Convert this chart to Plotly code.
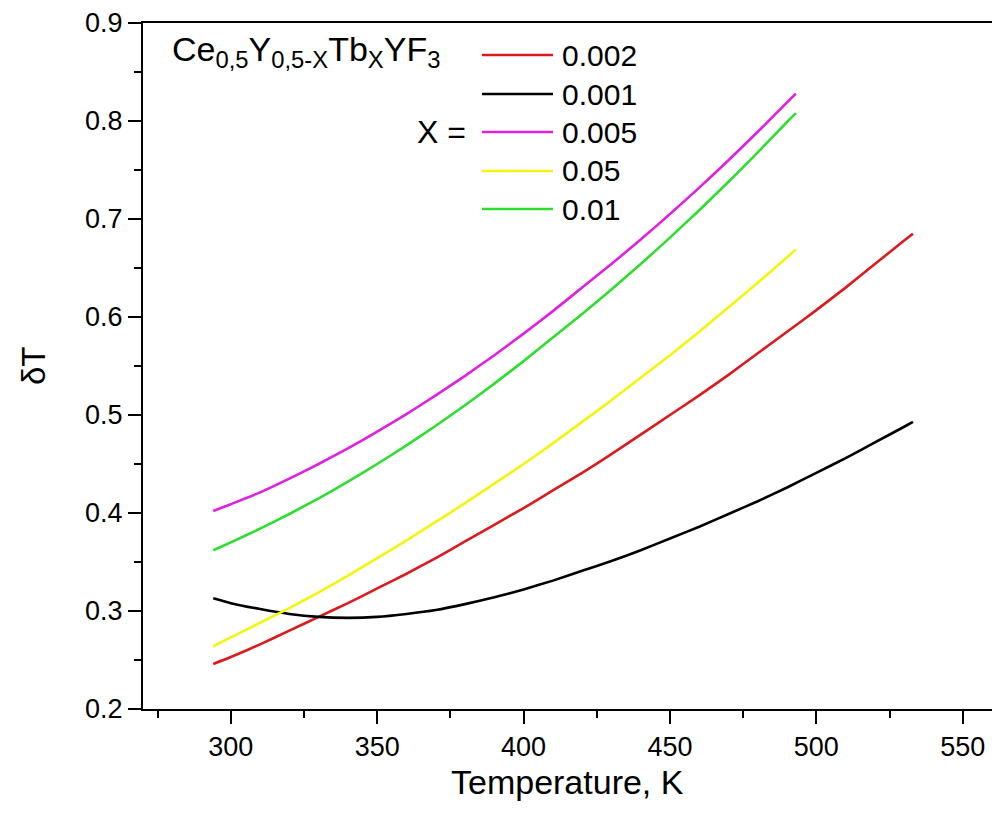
import plotly.graph_objects as go

# Temperature grids (K)
temp_long = [294, 300, 310, 320, 330, 340, 350, 360, 370, 380, 390, 400, 410, 420,
             430, 440, 450, 460, 470, 480, 490, 500, 510, 520, 530, 533]
temp_short = [294, 300, 310, 320, 330, 340, 350, 360, 370, 380, 390, 400, 410, 420,
              430, 440, 450, 460, 470, 480, 490, 493]

# delta T for each Tb concentration X
dT_0002 = [0.246, 0.253, 0.266, 0.280, 0.294, 0.308, 0.323, 0.338, 0.354, 0.371, 0.388,
           0.405, 0.423, 0.441, 0.460, 0.480, 0.500, 0.520, 0.541, 0.563, 0.585, 0.607,
           0.630, 0.654, 0.678, 0.685]
dT_0001 = [0.313, 0.308, 0.302, 0.297, 0.294, 0.293, 0.294, 0.297, 0.301, 0.307, 0.314,
           0.322, 0.331, 0.341, 0.351, 0.362, 0.374, 0.386, 0.399, 0.412, 0.426, 0.441,
           0.456, 0.472, 0.488, 0.493]
dT_0005 = [0.402, 0.409, 0.421, 0.435, 0.450, 0.466, 0.483, 0.501, 0.520, 0.540, 0.561,
           0.583, 0.606, 0.630, 0.654, 0.679, 0.705, 0.732, 0.760, 0.789, 0.819, 0.828]
dT_005 = [0.264, 0.273, 0.288, 0.303, 0.319, 0.336, 0.354, 0.372, 0.391, 0.410, 0.430,
          0.450, 0.471, 0.493, 0.515, 0.538, 0.561, 0.585, 0.610, 0.635, 0.661, 0.669]
dT_001 = [0.362, 0.370, 0.384, 0.399, 0.415, 0.432, 0.450, 0.469, 0.489, 0.510, 0.532,
          0.555, 0.579, 0.603, 0.628, 0.654, 0.681, 0.709, 0.738, 0.768, 0.799, 0.808]

labels = ["0.002", "0.001", "0.005", "0.05", "0.01"]
colors = ["#dc1a1e", "#000000", "#e020e0", "#f4f40c", "#2ede2e"]
xs = [temp_long, temp_long, temp_short, temp_short, temp_short]
ys = [dT_0002, dT_0001, dT_0005, dT_005, dT_001]

FONT = "Liberation Sans, Arial, sans-serif"
W, H = 992, 816
ML, MR, MT, MB = 143, 0, 23, 107
PW, PH = W - ML - MR, H - MT - MB


def px(xp):
    return (xp - ML) / PW


def py(yp):
    return (H - MB - yp) / PH


fig = go.Figure()
for x, y, lab, col in zip(xs, ys, labels, colors):
    fig.add_trace(go.Scatter(x=x, y=y, mode="lines", name=lab,
                             line=dict(color=col, width=2.6, shape="spline",
                                       smoothing=0.5),
                             showlegend=False))

# Custom key: sample line + concentration label per row
shapes = []
annotations = []
row_y = [55, 94, 132, 171, 209]
for lab, col, ry in zip(labels, colors, row_y):
    shapes.append(dict(type="line", xref="paper", yref="paper",
                       x0=px(482), x1=px(553), y0=py(ry), y1=py(ry),
                       line=dict(color=col, width=2.6)))
    annotations.append(dict(text=lab, xref="paper", yref="paper",
                            x=px(560), y=py(ry), xanchor="left", yanchor="middle",
                            showarrow=False, font=dict(family=FONT, size=30, color="black")))

annotations.append(dict(text="X =", xref="paper", yref="paper", x=px(468), y=py(132),
                        xanchor="right", yanchor="middle", showarrow=False,
                        font=dict(family=FONT, size=32, color="black")))
annotations.append(dict(text="Ce<sub>0,5</sub>Y<sub>0,5-X</sub>Tb<sub>X</sub>YF<sub>3</sub>",
                        xref="paper", yref="paper", x=px(170), y=py(52),
                        xanchor="left", yanchor="middle", showarrow=False,
                        font=dict(family=FONT, size=34, color="black")))
annotations.append(dict(text="Temperature, K", xref="paper", yref="paper",
                        x=0.5, y=py(782), xanchor="center", yanchor="middle",
                        showarrow=False, font=dict(family=FONT, size=34, color="black")))
annotations.append(dict(text="δT", xref="paper", yref="paper",
                        x=px(33), y=py(366), xanchor="center", yanchor="middle",
                        textangle=-90, showarrow=False,
                        font=dict(family=FONT, size=33, color="black")))

axis_common = dict(showgrid=False, zeroline=False, showline=True, linecolor="black",
                   linewidth=2, ticks="outside", ticklen=13, tickwidth=2,
                   tickcolor="black",
                   tickfont=dict(family=FONT, size=27, color="black"))

fig.update_layout(
    width=W, height=H,
    margin=dict(l=ML, r=MR, t=MT, b=MB),
    paper_bgcolor="white", plot_bgcolor="white",
    xaxis=dict(range=[270, 560], tick0=300, dtick=50, mirror=True,
               minor=dict(dtick=25, ticks="outside", ticklen=7, tickwidth=2,
                          tickcolor="black"),
               **axis_common),
    yaxis=dict(range=[0.2, 0.9], tick0=0.2, dtick=0.1, tickformat=".1f", mirror=False,
               minor=dict(dtick=0.05, ticks="outside", ticklen=7, tickwidth=2,
                          tickcolor="black"),
               **axis_common),
    shapes=shapes,
    annotations=annotations,
)

fig.write_html("out.html")
